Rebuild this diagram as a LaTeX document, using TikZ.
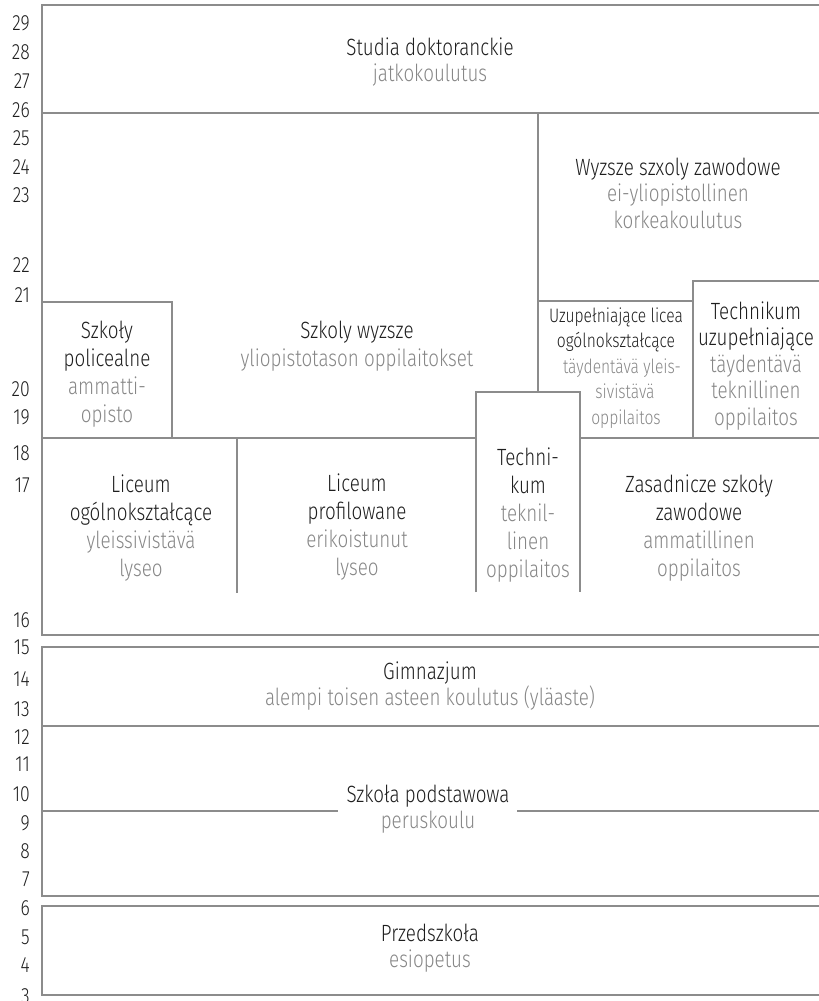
\documentclass[tikz,border=0pt]{standalone}
\usepackage{fontspec}
\setmainfont{Fira Sans Light}[FakeStretch=0.8]
\definecolor{ln}{HTML}{8C8C8C}
\definecolor{pl}{HTML}{1E1E1E}
\definecolor{fnc}{HTML}{878787}
\newcommand{\finn}[1]{\textcolor{fnc}{#1}}
\begin{document}
\begin{tikzpicture}[x=1pt,y=-1pt,
  frame/.style={draw=ln, line width=1.3pt},
  lab/.style={align=center, text=pl, font=\fontsize{23.5}{28}\selectfont, inner sep=0pt},
  tight/.style={align=center, text=pl, font=\fontsize{23.5}{26.5}\selectfont, inner sep=0pt},
  smalllab/.style={align=center, text=pl, font=\fontsize{19.5}{25.5}\selectfont, inner sep=0pt},
  num/.style={anchor=east, text=pl, font=\fontsize{22}{24}\selectfont, inner sep=0pt}]
\useasboundingbox (0,0) rectangle (819,1001);

% upper section frame
\draw[frame] (819,5) -- (42,5) -- (42,635) -- (819,635);
\draw[frame] (42,113) -- (819,113);
\draw[frame] (538,113) -- (538,392);
\draw[frame] (538,301) -- (693,301);
\draw[frame] (693,438) -- (693,281) -- (819,281);
\draw[frame] (580,438) -- (819,438);
\draw[frame] (42,302) -- (172,302) -- (172,438);
\draw[frame] (42,438) -- (476,438);
\draw[frame] (476,592) -- (476,392) -- (580,392) -- (580,592);
\draw[frame] (237,438) -- (237,593);

% Gimnazjum and Szkola podstawowa
\draw[frame] (819,647) -- (42,647) -- (42,896) -- (819,896);
\draw[frame] (42,726) -- (819,726);
\coordinate (gapL) at (338,811);
\coordinate (gapR) at (517,811);
\draw[frame] (42,811) -- (gapL);
\draw[frame] (gapR) -- (819,811);

% Przedszkole
\draw[frame] (819,906) -- (42,906) -- (42,995) -- (819,995);

% age numbers
\node[num] (n29) at (30,23) {29};
\node[num] (n28) at (30,52) {28};
\node[num] (n27) at (30,81) {27};
\node[num] (n26) at (30,110) {26};
\node[num] (n25) at (30,138) {25};
\node[num] (n24) at (30,167) {24};
\node[num] (n23) at (30,195) {23};
\node[num] (n22) at (30,265) {22};
\node[num] (n21) at (30,295) {21};
\node[num] (n20) at (30,389) {20};
\node[num] (n19) at (30,417) {19};
\node[num] (n18) at (30,453) {18};
\node[num] (n17) at (30,485) {17};
\node[num] (n16) at (30,620) {16};
\node[num] (n15) at (30,647) {15};
\node[num] (n14) at (30,679) {14};
\node[num] (n13) at (30,709) {13};
\node[num] (n12) at (30,737) {12};
\node[num] (n11) at (30,764) {11};
\node[num] (n10) at (30,794) {10};
\node[num] (n9) at (30,823) {9};
\node[num] (n8) at (30,851) {8};
\node[num] (n7) at (30,879) {7};
\node[num] (n6) at (30,908) {6};
\node[num] (n5) at (30,937) {5};
\node[num] (n4) at (30,965) {4};
\node[num] (n3) at (30,996) {3};

% labels
\node[tight] (doct) at (430,62) {Studia doktoranckie\\\finn{jatkokoulutus}};
\node[tight] (wsz) at (678,193) {Wyzsze szxoly zawodowe\\\finn{ei-yliopistollinen}\\\finn{korkeakoulutus}};
\node[lab] (sw) at (357,346) {Szkoly wyzsze\\\finn{yliopistotason oppilaitokset}};
\node[lab] (pol) at (107,374) {Szkoły\\policealne\\\finn{ammatti-}\\\finn{opisto}};
\node[smalllab] (ulo) at (616,368) {Uzupełniające licea\\ogólnokształcące\\\hspace*{12pt}\finn{täydentävä yleis-}\\\hspace*{18pt}\finn{sivistävä}\\\hspace*{20pt}\finn{oppilaitos}};
\node[tight] (tu) at (756,366) {Technikum\\uzupełniające\\\finn{täydentävä}\\\finn{teknillinen}\\\finn{oppilaitos}};
\node[lab] (lo) at (141,528) {Liceum\\ogólnokształcące\\\finn{yleissivistävä}\\\finn{lyseo}};
\node[lab] (lp) at (357,527) {Liceum\\profilowane\\\finn{erikoistunut}\\\finn{lyseo}};
\node[lab] (tech) at (528,515) {Techni-\\kum\\\finn{teknil-}\\\finn{linen}\\\finn{oppilaitos}};
\node[lab] (zsz) at (699,528) {Zasadnicze szkoły\\zawodowe\\\finn{ammatillinen}\\\finn{oppilaitos}};
\node[tight] (gim) at (430,686) {Gimnazjum\\\finn{alempi toisen asteen koulutus (yläaste)}};
\node[tight] (sp) at (428,809) {Szkoła podstawowa\\\finn{peruskoulu}};
\node[tight] (prz) at (430,948) {Przedszkoła\\\finn{esiopetus}};
\end{tikzpicture}
\end{document}
